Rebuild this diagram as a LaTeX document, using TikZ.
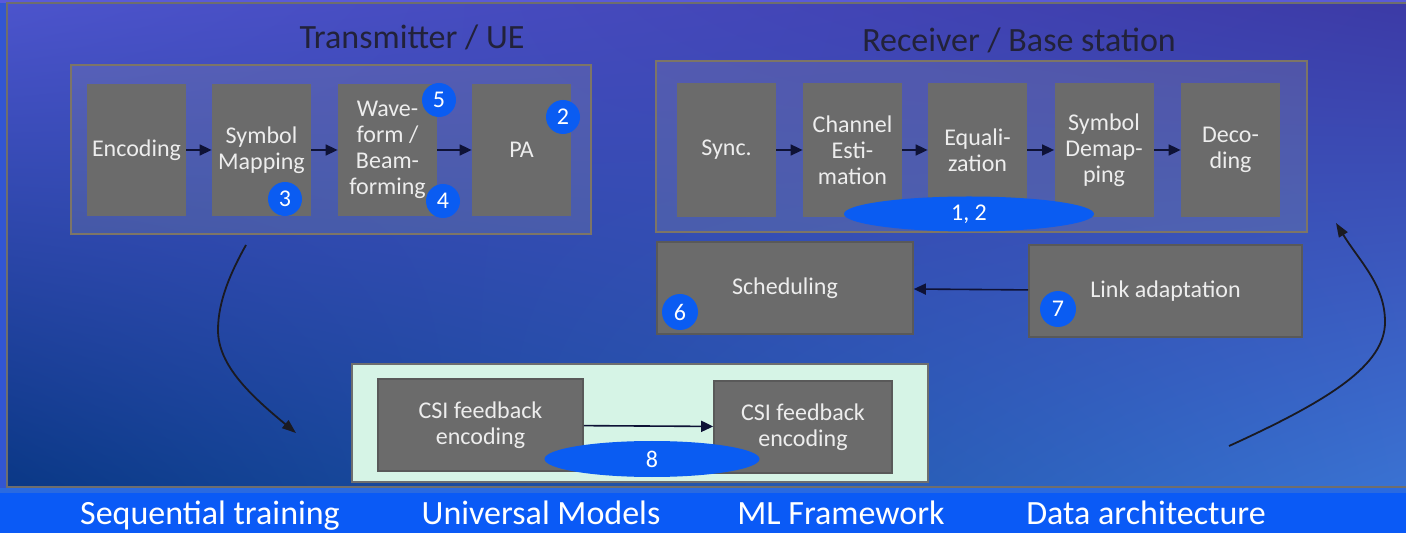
\documentclass[tikz,border=0pt]{standalone}
\usepackage{fontspec}
\setmainfont{Carlito}
\usetikzlibrary{arrows.meta,shapes.geometric,calc,shadings}
\definecolor{bgUL}{HTML}{4C54CC}
\definecolor{bgUR}{HTML}{3C3AA6}
\definecolor{bgLL}{HTML}{0A3886}
\definecolor{bgLR}{HTML}{3A72D2}
\definecolor{edgeblue}{HTML}{3256D2}
\definecolor{topstrip}{HTML}{5A5AD8}
\definecolor{stripblue}{HTML}{2A6AE0}
\definecolor{barblue}{HTML}{0A5AF6}
\definecolor{framegray}{HTML}{6E6E6E}
\definecolor{grpborder}{HTML}{7D7566}
\definecolor{boxgray}{HTML}{6B6B6B}
\definecolor{boxtext}{HTML}{EDEDED}
\definecolor{badgeblue}{HTML}{0A5CF2}
\definecolor{titlec}{HTML}{22223A}
\definecolor{csifill}{HTML}{D6F4E6}
\definecolor{arrowc}{HTML}{0E1236}
\definecolor{curvec}{HTML}{1A1A22}
\begin{document}
\begin{tikzpicture}[x=0.5pt,y=-0.5pt,
  grp/.style={draw=grpborder, line width=1pt, fill=gray!80, fill opacity=0.22, inner sep=0pt},
  blk/.style={fill=boxgray, text=boxtext, align=center, inner sep=0pt,
    minimum width=49.5pt, minimum height=66pt, font=\fontsize{12}{13}\selectfont},
  wblk/.style={fill=boxgray, draw=black!65, line width=0.8pt, text=boxtext, align=center, inner sep=0pt,
    minimum height=46pt, font=\fontsize{12}{13}\selectfont},
  badge/.style={circle, fill=badgeblue, text=white, inner sep=0pt, minimum size=17pt,
    font=\fontsize{12}{13}\selectfont},
  oval/.style={ellipse, fill=badgeblue, text=white, inner sep=0pt,
    font=\fontsize{12}{13}\selectfont},
  arr/.style={draw=arrowc, line width=0.8pt, -{Triangle[length=6pt,width=5.5pt]}},
  curv/.style={draw=curvec, line width=0.9pt, -{Triangle[length=7pt,width=5pt]}},
  ttl/.style={text=titlec, font=\fontsize{17}{20}\selectfont, inner sep=0pt},
  bar/.style={text=white, font=\fontsize{17}{20}\selectfont, inner sep=0pt, anchor=base}
]
\useasboundingbox (0,0) rectangle (1406,533);
% background
\fill[edgeblue] (0,0) rectangle (1406,533);
\fill[topstrip] (0,0) rectangle (1406,3);
\shade[upper left=bgUL, upper right=bgUR, lower left=bgLL, lower right=bgLR] (7,3) rectangle (1406,487);
\draw[framegray, line width=1pt] (1412,3) -- (7,3) -- (7,487) -- (1412,487);
\fill[stripblue] (0,488) rectangle (1406,493);
\fill[barblue] (0,493) rectangle (1406,533);

% titles
\node[ttl] (ttx) at (412,37) {Transmitter / UE};
\node[ttl] (trx) at (1019,40) {Receiver / Base station};

% transmitter
\node[grp, minimum width=260pt, minimum height=84.5pt] (txg) at (331,149.5) {};
\node[blk] (enc) at (136.5,150) {Encoding};
\node[blk] (sym) at (261.5,150) {Symbol\\Mapping};
\node[blk] (wav) at (387.5,150) {Wave-\\form /\\Beam-\\forming};
\node[blk] (pa) at (521.5,150) {PA};
\draw[arr] (enc) -- (sym);
\draw[arr] (sym) -- (wav);
\draw[arr] (wav) -- (pa);
\node[badge] (b5) at (439,100) {5};
\node[badge] (b2) at (563,117) {2};
\node[badge] (b3) at (285,199) {3};
\node[badge] (b4) at (443,201) {4};

% receiver
\node[grp, minimum width=325.5pt, minimum height=85.5pt] (rxg) at (981.5,146.5) {};
\node[blk, minimum height=67pt] (syn) at (726.5,150) {Sync.};
\node[blk, minimum height=67pt] (che) at (852.5,150) {Channel\\Esti-\\mation};
\node[blk, minimum height=67pt] (equ) at (977.5,150) {Equali-\\zation};
\node[blk, minimum height=67pt] (dem) at (1104,150) {Symbol\\Demap-\\ping};
\node[blk, minimum height=67pt] (dec) at (1230.5,150) {Deco-\\ding};
\draw[arr] (syn) -- (che);
\draw[arr] (che) -- (equ);
\draw[arr] (equ) -- (dem);
\draw[arr] (dem) -- (dec);
\node[oval, minimum width=125pt, minimum height=17.5pt] (e12) at (969,214) {1, 2};

% scheduling / link adaptation
\node[wblk, minimum width=128pt] (sch) at (785,288) {Scheduling};
\node[wblk, minimum width=136.5pt] (lnk) at (1165.5,291) {Link adaptation};
\draw[arr] (lnk) -- (sch);
\node[badge, minimum size=18pt] (b6) at (680,312) {6};
\node[badge, minimum size=18pt] (b7) at (1058,309) {7};

% CSI
\node[draw=framegray, line width=1pt, fill=csifill, minimum width=288pt, minimum height=59pt, inner sep=0pt] (csig) at (640,423) {};
\node[wblk, minimum width=102.5pt] (csi1) at (480.5,425) {CSI feedback\\encoding};
\node[wblk, minimum width=89pt] (csi2) at (803,427) {CSI feedback\\encoding};
\draw[arr] (csi1) -- (csi2);
\node[oval, minimum width=107.5pt, minimum height=18pt] (e8) at (652,459) {8};

% curved arrows
\coordinate (c1s) at (246,245);
\coordinate (c1e) at (296,433);
\coordinate (c2s) at (1229,446);
\coordinate (c2e) at (1336,223);
\draw[curv] (c1s) .. controls (232,270) and (218,300) .. (218,330) .. controls (218,365) and (250,395) .. (c1e);
\draw[curv] (c2s) .. controls (1330,400) and (1385,365) .. (1385,322) .. controls (1385,285) and (1360,262) .. (c2e);

% bottom bar
\node[bar] (t1) at (210,524) {Sequential training};
\node[bar] (t2) at (541,524) {Universal Models};
\node[bar] (t3) at (841,524) {ML Framework};
\node[bar] (t4) at (1146,524) {Data architecture};
\end{tikzpicture}
\end{document}
